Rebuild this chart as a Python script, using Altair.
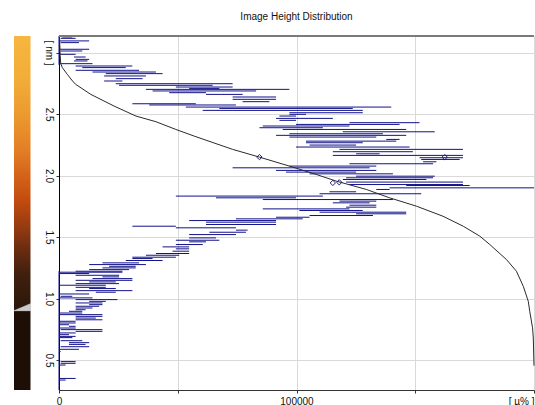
import altair as alt
import pandas as pd

# ---------------- data ----------------
# histogram: one near-horizontal segment per height bin (height nm, left count, right count)
seg_height = [3.127, 3.116, 3.095, 3.081, 3.027, 3.013, 2.986, 2.964, 2.945, 2.932, 2.910, 2.891, 2.878, 2.856,
              2.842, 2.829, 2.810, 2.788, 2.769, 2.747, 2.734, 2.720, 2.709, 2.701, 2.688, 2.674, 2.660, 2.639,
              2.620, 2.601, 2.584, 2.574, 2.557, 2.546, 2.530, 2.511, 2.498, 2.484, 2.465, 2.449, 2.430, 2.416,
              2.403, 2.389, 2.375, 2.356, 2.340, 2.327, 2.313, 2.294, 2.280, 2.267, 2.248, 2.232, 2.213, 2.194,
              2.177, 2.164, 2.145, 2.131, 2.112, 2.096, 2.077, 2.063, 2.042, 2.028, 2.014, 1.995, 1.982, 1.968,
              1.947, 1.927, 1.919, 1.900, 1.887, 1.868, 1.852, 1.833, 1.819, 1.805, 1.792, 1.778, 1.759, 1.743,
              1.729, 1.716, 1.702, 1.689, 1.675, 1.661, 1.648, 1.634, 1.621, 1.602, 1.588, 1.575, 1.556, 1.539,
              1.520, 1.493, 1.474, 1.461, 1.439, 1.420, 1.404, 1.385, 1.366, 1.352, 1.336, 1.325, 1.309, 1.290,
              1.276, 1.262, 1.249, 1.235, 1.222, 1.214, 1.203, 1.189, 1.176, 1.162, 1.148, 1.135, 1.121, 1.108,
              1.091, 1.081, 1.064, 1.051, 1.037, 1.018, 1.005, 0.991, 0.977, 0.964, 0.950, 0.937, 0.923, 0.909,
              0.896, 0.882, 0.869, 0.855, 0.841, 0.827, 0.815, 0.801, 0.787, 0.774, 0.760, 0.747, 0.733, 0.720,
              0.706, 0.692, 0.682, 0.657, 0.641, 0.627, 0.608, 0.587, 0.568, 0.487, 0.473, 0.459, 0.350, 0.337]
seg_left = [1400, 700, 0, 700, 0, 700, 0, 6300, 7000, 6300, 0, 7000, 9800, 7000,
            14100, 19700, 19000, 23900, 19000, 23900, 25300, 49200, 54800, 36600, 39400, 46400, 61900, 73100,
            73100, 77300, 30900, 38000, 53400, 67500, 60500, 97000, 97000, 92800, 91400, 92800, 122300, 99800,
            85800, 84400, 94200, 119500, 97000, 91400, 97000, 137800, 104000, 104000, 105500, 99800, 118100, 115300,
            125100, 115300, 151800, 152500, 153300, 122300, 97000, 73100, 91400, 95600, 105500, 125100, 120900, 119500,
            120900, 122300, 146200, 139200, 133600, 113900, 109700, 49200, 66100, 85800, 118100, 115300, 122300, 120900,
            85800, 101200, 109700, 125100, 105500, 91400, 74500, 54800, 61900, 61900, 30900, 49200, 74500, 63300,
            54800, 54800, 49200, 54800, 49200, 43600, 49200, 47800, 40800, 36600, 30900, 30900, 28100, 18300,
            12700, 21100, 18300, 12700, 7000, 0, 0, 7000, 18300, 14100, 7000, 12700, 7000, 0,
            7000, 12700, 7000, 15500, 0, 700, 0, 7000, 12700, 7000, 12700, 7000, 7000, 7000,
            4200, 0, 0, 7000, 7000, 7000, 0, 0, 0, 4200, 0, 700, 7000, 0,
            0, 0, 0, 700, 4200, 4200, 700, 0, 0, 700, 700, 0, 0, 0]
seg_right = [5600, 7000, 12700, 8400, 12700, 9800, 7000, 11200, 12700, 12000, 14100, 30900, 28100, 33700,
             40800, 43600, 36600, 35200, 26700, 73100, 64700, 73100, 67500, 97000, 83000, 61900, 77300, 91400,
             91400, 88600, 57600, 74500, 139900, 123700, 127900, 127900, 104000, 99800, 115300, 99800, 151800, 143400,
             122300, 111100, 146200, 158200, 136400, 146200, 133600, 143400, 142000, 127900, 125100, 147600, 170100, 149000,
             135000, 170100, 170100, 168700, 158900, 157500, 133600, 130800, 133600, 125100, 140600, 158200, 157500, 154700,
             170100, 170100, 172900, 200000, 139200, 125100, 152500, 111100, 99800, 140600, 133600, 130800, 133600, 133600,
             122300, 127900, 146200, 146200, 132200, 105500, 102600, 91400, 91400, 91400, 49200, 74500, 79400, 78700,
             74500, 66100, 67500, 61900, 60500, 54800, 54800, 54800, 54800, 50600, 49200, 39400, 43600, 33700,
             36600, 32300, 32300, 29500, 26700, 26700, 12700, 25300, 25300, 30900, 30900, 23900, 25300, 19700,
             19700, 23900, 30900, 23900, 12700, 5600, 14100, 24600, 19700, 18300, 18300, 16900, 14100, 11200,
             9800, 9800, 18300, 18300, 15500, 18300, 7000, 7000, 4200, 7000, 7000, 18300, 18300, 7000,
             4200, 7000, 5600, 9800, 12700, 11200, 12700, 8400, 700, 7000, 7000, 2800, 7000, 2800]

# stretches where the histogram runs along zero
zero_lo = [0.256, 2.90]
zero_hi = [1.222, 3.135]

# cumulative curve
cum_count = [200, 500, 700, 1400, 3500, 5700, 7000, 13400, 23200, 32400, 40800, 49200, 56900, 73100, 84400,
             97000, 108300, 116700, 129400, 139200, 150500, 161700, 170200, 177200, 181400, 188400, 192600,
             195500, 197600, 198200, 199400, 199700, 200000]
cum_height = [3.133, 2.978, 2.913, 2.878, 2.823, 2.769, 2.742, 2.660, 2.565, 2.484, 2.438, 2.375, 2.321, 2.213,
              2.150, 2.077, 2.009, 1.955, 1.887, 1.819, 1.751, 1.669, 1.588, 1.507, 1.439, 1.317, 1.222,
              1.099, 0.977, 0.896, 0.761, 0.679, 0.454]

# cursor markers
marker_count = [84400, 162400, 115300, 118000]
marker_height = [2.150, 2.150, 1.940, 1.945]

# colour bar
bar_stop_height = [3.135, 2.8, 2.5, 2.2, 2.0, 1.8, 1.6, 1.4, 1.2, 0.901]
bar_stop_color = ["#F6B63F", "#F3AD39", "#EC9A30", "#E27E25", "#D4631A", "#C24C0E", "#9A3C10",
                  "#6A2C10", "#40200E", "#2A160A"]
bar_low_color = "#1E0F06"
bar_split = 0.901

y_ticks = [0.5, 1.0, 1.5, 2.0, 2.5, 3.0]
x_ticks = [0, 50000, 100000, 150000, 200000]

# ---------------- chart ----------------
W, H = 475, 354
Y_MIN, Y_MAX = 0.256, 3.135
X_MAX = 200000
FONT = "Liberation Sans"
HIST_COLOR = "#12128a"

xscale = alt.Scale(domain=[0, X_MAX], nice=False, zero=False)
yscale = alt.Scale(domain=[Y_MIN, Y_MAX], nice=False, zero=False)

xaxis = alt.Axis(
    values=x_ticks, title=None, grid=True, gridColor="#d9d9d9", gridWidth=1,
    domainColor="#333333", tickColor="#333333", tickSize=3, labelPadding=3,
    labelFont=FONT, labelFontSize=10, labelColor="#111111",
    labelExpr="datum.value == 0 ? '0' : datum.value == 100000 ? '100000' : datum.value == 200000 ? '[ µ% ]' : ''",
    labelAlign={"condition": {"test": "datum.value == 200000", "value": "right"}, "value": "center"},
    labelFlush=False, labelOverlap=False, labelBound=False,
)
yaxis = alt.Axis(
    values=y_ticks, title=None, grid=True, gridColor="#d9d9d9", gridWidth=1,
    domainColor="#000000", tickColor="#333333", tickSize=3, labelPadding=3,
    labelFont=FONT, labelFontSize=10, labelColor="#111111",
    labelAngle=90, labelAlign="center", labelBaseline="top",
    labelExpr="datum.value == 3 ? '[ nm ]' : format(datum.value, '.1f')",
    labelOverlap=False, labelBound=False,
)

seg_df = pd.DataFrame({"height": seg_height, "count": seg_left, "count2": seg_right})
zero_df = pd.DataFrame({"height": zero_lo, "height2": zero_hi, "count": [0] * len(zero_lo)})
cum_df = pd.DataFrame({"count": cum_count, "height": cum_height, "order": list(range(len(cum_count)))})
mk_df = pd.DataFrame({"count": marker_count, "height": marker_height})

span = bar_stop_height[0] - bar_stop_height[-1]
stops = [alt.GradientStop(color=c, offset=(bar_stop_height[0] - h) / span)
         for h, c in zip(bar_stop_height, bar_stop_color)]
grad = alt.LinearGradient(gradient="linear", stops=stops, x1=0, x2=0, y1=0, y2=1)

bar_top_df = pd.DataFrame({"height": [bar_split], "height2": [Y_MAX]})
bar_low_df = pd.DataFrame({"height": [Y_MIN], "height2": [bar_split]})
tri_df = pd.DataFrame({"height": [bar_split]})
one = pd.DataFrame({"a": [0]})

base_grid = alt.Chart(one).mark_rule(opacity=0).encode(
    x=alt.X("a:Q", scale=xscale, axis=xaxis),
    y=alt.Y("a:Q", scale=yscale, axis=yaxis),
)

bar_top = alt.Chart(bar_top_df).mark_rect(fill=grad).encode(
    x=alt.value(-45), x2=alt.value(-28.5),
    y=alt.Y("height:Q", scale=yscale), y2="height2:Q",
)
bar_low = alt.Chart(bar_low_df).mark_rect(fill=bar_low_color).encode(
    x=alt.value(-45), x2=alt.value(-28.5),
    y=alt.Y("height:Q", scale=yscale), y2="height2:Q",
)
tri = alt.Chart(tri_df).mark_point(
    shape="M -1 0 L 1 -0.85 L 1 0 Z", filled=True, fill="#c9c9c9", stroke="#e6e6e6",
    strokeWidth=0.5, size=272, opacity=1,
).encode(x=alt.value(-36.75), y=alt.Y("height:Q", scale=yscale))

hist = alt.Chart(seg_df).mark_rule(color=HIST_COLOR, strokeWidth=1).encode(
    x=alt.X("count:Q", scale=xscale), x2="count2:Q",
    y=alt.Y("height:Q", scale=yscale),
)
zeros = alt.Chart(zero_df).mark_rule(color=HIST_COLOR, strokeWidth=1).encode(
    x=alt.X("count:Q", scale=xscale),
    y=alt.Y("height:Q", scale=yscale), y2="height2:Q",
)
cum = alt.Chart(cum_df).mark_line(color="#2b2b2b", strokeWidth=1).encode(
    x=alt.X("count:Q", scale=xscale),
    y=alt.Y("height:Q", scale=yscale),
    order="order:Q",
)
marks = alt.Chart(mk_df).mark_point(shape="diamond", filled=False, color="#1c1c7a",
                                    size=28, strokeWidth=1, opacity=1).encode(
    x=alt.X("count:Q", scale=xscale),
    y=alt.Y("height:Q", scale=yscale),
)
top_border = alt.Chart(one).mark_rule(color="#7a7a7a", strokeWidth=2).encode(
    x=alt.value(0), x2=alt.value(W), y=alt.value(0),
)

chart = alt.layer(base_grid, bar_top, bar_low, tri, hist, zeros, cum, marks, top_border).properties(
    width=W, height=H,
    title=alt.TitleParams("Image Height Distribution", font=FONT, fontSize=10, fontWeight="normal",
                          color="#111111", anchor="middle", frame="group", offset=12),
    autosize=alt.AutoSizeParams(type="none"),
    padding={"left": 59, "top": 36, "right": 1, "bottom": 15},
).configure_view(stroke=None).configure(background="white")

chart.save("out.html", embed_options={"renderer": "svg", "actions": False})
